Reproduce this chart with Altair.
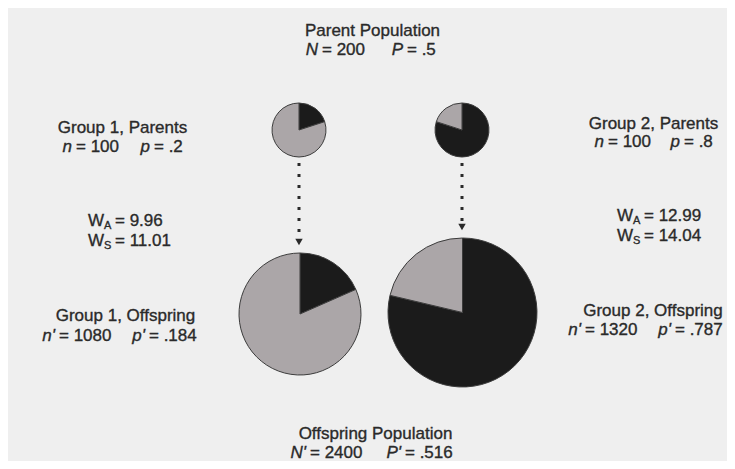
import altair as alt
import pandas as pd

# ---------------- data ----------------
groups = ["Parent Population", "Group 1, Parents", "Group 2, Parents",
          "Group 1, Offspring", "Group 2, Offspring", "Offspring Population"]
size_symbols = ["N", "n", "n", "n'", "n'", "N'"]
size_values = ["200", "100", "100", "1080", "1320", "2400"]
freq_symbols = ["P", "p", "p", "p'", "p'", "P'"]
freq_values = [".5", ".2", ".8", ".184", ".787", ".516"]

pie_groups = ["Group 1, Parents", "Group 2, Parents", "Group 1, Offspring", "Group 2, Offspring"]
pie_p = [0.2, 0.8, 0.184, 0.787]

fit_groups = ["Group 1", "Group 2"]
w_a = ["9.96", "12.99"]
w_s = ["11.01", "14.04"]

# ---------------- layout (diagram placement, page pixels) ----------------
# title centre x, title baseline, stats baseline, symbol-1 right edge, symbol-2 right edge
text_layout = {
    "Parent Population": (372.5, 36, 55, 318, 403),
    "Group 1, Parents": (122.5, 133, 152, 72, 150),
    "Group 2, Parents": (653.5, 129, 147, 604, 680),
    "Group 1, Offspring": (125.5, 321, 341, 55, 145),
    "Group 2, Offspring": (653, 316, 335, 581, 671),
    "Offspring Population": (375.5, 439, 458, 306, 401),
}
# W right edge, W_A baseline, W_S baseline
fit_layout = {"Group 1": (104, 226, 246), "Group 2": (633, 221, 241)}
# pie centre x, centre y, radius
pie_layout = {
    "Group 1, Parents": (299, 130, 27),
    "Group 2, Parents": (462, 130, 27),
    "Group 1, Offspring": (300, 314, 61),
    "Group 2, Offspring": (462.5, 312.5, 74.5),
}
# arrows: x, top, head
arrow_layout = [(299, 163, 242), (462, 163, 227)]

# ---------------- tables ----------------
pie_rows = []
for g, p in zip(pie_groups, pie_p):
    cx, cy, r = pie_layout[g]
    pie_rows.append(dict(group=g, allele="A", start=0.0, end=p, x=cx, y=cy, r=r))
    pie_rows.append(dict(group=g, allele="a", start=p, end=1.0, x=cx, y=cy, r=r))
pies = pd.DataFrame(pie_rows)

text_rows = []
for g, s1, v1, s2, v2 in zip(groups, size_symbols, size_values, freq_symbols, freq_values):
    cx, ty, sy, b1, b2 = text_layout[g]
    text_rows.append(dict(text=g, x=cx, y=ty, kind="title"))
    text_rows.append(dict(text=s1, x=b1, y=sy, kind="italic"))
    text_rows.append(dict(text="= " + v1, x=b1 + 4, y=sy, kind="regular"))
    text_rows.append(dict(text=s2, x=b2, y=sy, kind="italic"))
    text_rows.append(dict(text="= " + v2, x=b2 + 4, y=sy, kind="regular"))
for g, a, s in zip(fit_groups, w_a, w_s):
    wx, ya, ys = fit_layout[g]
    for sub, val, yy in (("A", a, ya), ("S", s, ys)):
        text_rows.append(dict(text="W", x=wx, y=yy, kind="W"))
        text_rows.append(dict(text=sub, x=wx, y=yy + 3, kind="sub"))
        text_rows.append(dict(text="= " + val, x=wx + 11, y=yy, kind="regular"))
texts = pd.DataFrame(text_rows)

arrows = pd.DataFrame([dict(x=ax, y=top, y2=head - 6, yh=head) for ax, top, head in arrow_layout])

# ---------------- chart ----------------
# plot area covers page pixels 8..727 x 8..461 (page margin is 8px)
XS = alt.Scale(domain=[8, 727], nice=False, zero=False)
YS = alt.Scale(domain=[8, 461], nice=False, zero=False, reverse=True)
X = alt.X("x:Q", scale=XS, axis=None)
Y = alt.Y("y:Q", scale=YS, axis=None)

FONT = "Liberation Sans"
TXT = "#2a2a2a"

pie_layer = alt.Chart(pies).mark_arc(stroke="#3c3c3c", strokeWidth=1).encode(
    x=X, y=Y,
    theta=alt.Theta("start:Q", scale=alt.Scale(domain=[0, 1])),
    theta2="end:Q",
    radius=alt.Radius("r:Q", scale=None),
    color=alt.Color("allele:N", scale=alt.Scale(domain=["A", "a"], range=["#1b1b1b", "#aba6a8"]), legend=None),
)

rule_layer = alt.Chart(arrows).mark_rule(color="#2a2a2a", strokeWidth=3, strokeDash=[3, 8]).encode(
    x=X, y=Y, y2="y2:Q"
)
head_layer = alt.Chart(arrows).mark_point(shape="triangle-down", filled=True, size=55, color="#2a2a2a", opacity=1).encode(
    x=X, y=alt.Y("yh:Q", scale=YS, axis=None)
)

def text_layer(kind, **kw):
    return alt.Chart(texts).transform_filter(alt.datum.kind == kind).mark_text(
        font=FONT, color=TXT, baseline="alphabetic", stroke=TXT, strokeWidth=0.35, **kw
    ).encode(x=X, y=Y, text="text:N")

layers = [
    pie_layer, rule_layer, head_layer,
    text_layer("title", fontSize=17, align="center"),
    text_layer("italic", fontSize=17, align="right", fontStyle="italic"),
    text_layer("regular", fontSize=17, align="left"),
    text_layer("W", fontSize=17, align="right"),
    text_layer("sub", fontSize=11, align="left"),
]

chart = alt.layer(*layers).properties(
    width=719, height=453, background="#efefef", padding=0,
    autosize=alt.AutoSizeParams(type="none"),
).configure_view(stroke=None)

chart.save("out.html", embed_options={"renderer": "svg", "actions": False})
